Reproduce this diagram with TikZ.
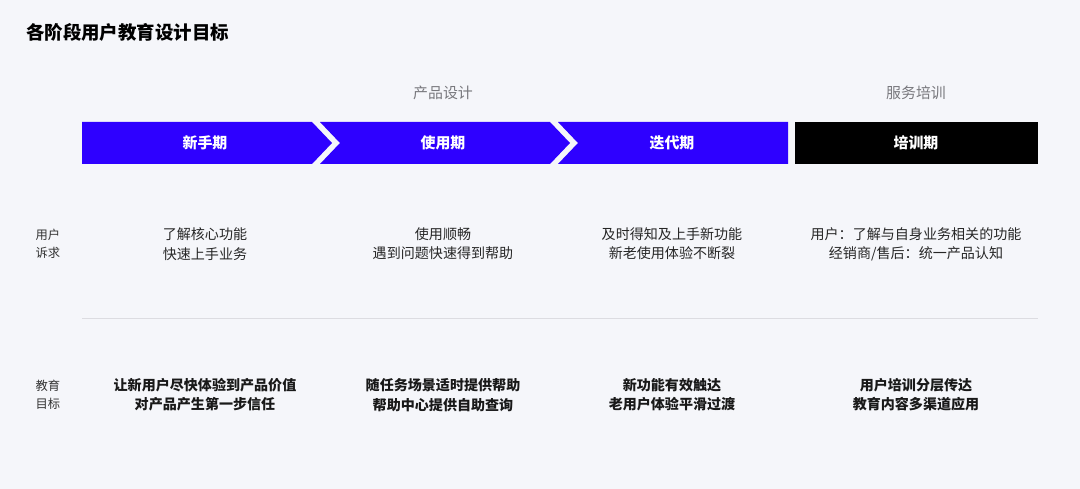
\documentclass[tikz,border=0pt]{standalone}
\usepackage{fontspec}
\setmainfont{Noto Sans CJK SC}
\usetikzlibrary{positioning}
\definecolor{bgcolor}{RGB}{245,246,250}
\definecolor{stagecolor}{RGB}{46,0,255}
\definecolor{labelcolor}{RGB}{120,120,125}
\definecolor{rulecolor}{RGB}{220,220,225}

\begin{document}
\begin{tikzpicture}[x=0.02cm, y=-0.02cm,
    stage/.style={font=\fontsize{8.5}{10}\selectfont\bfseries, text=white},
    cell/.style={font=\fontsize{8}{11}\selectfont, align=center, text=black!85},
    goal/.style={font=\fontsize{8}{11}\selectfont\bfseries, align=center, text=black!90},
    rowlabel/.style={font=\fontsize{7}{10}\selectfont, align=center, text=black!80},
    section/.style={font=\fontsize{8.5}{10}\selectfont, text=labelcolor}]
    % Fond
    \fill[bgcolor] (0,0) rectangle (1080,489);
    \useasboundingbox (0,0) rectangle (1080,489);

    % Titre
    \node[anchor=west, font=\fontsize{10.5}{12}\selectfont\bfseries] (title) at (20,32) {各阶段用户教育设计目标};

    % Sections
    \node[section] (design) at (443,93) {产品设计};
    \node[section] (service) at (916,93) {服务培训};

    % Etapes (chevrons)
    \fill[stagecolor] (82,122) -- (312,122) -- (332,143) -- (312,164) -- (82,164) -- cycle;
    \fill[stagecolor] (320,122) -- (550,122) -- (570,143) -- (550,164) -- (320,164) -- (340,143) -- cycle;
    \fill[stagecolor] (558,122) -- (788,122) -- (788,164) -- (558,164) -- (578,143) -- cycle;
    \fill[black] (795,122) rectangle (1038,164);
    \node[stage] (s1) at (205,143) {新手期};
    \node[stage] (s2) at (443,143) {使用期};
    \node[stage] (s3) at (672,143) {迭代期};
    \node[stage] (s4) at (916,143) {培训期};

    % Besoins
    \node[rowlabel] (need) at (48,244) {用户\\诉求};
    \node[cell] (n1) at (205,244) {了解核心功能\\快速上手业务};
    \node[cell] (n2) at (443,244) {使用顺畅\\遇到问题快速得到帮助};
    \node[cell] (n3) at (672,244) {及时得知及上手新功能\\新老使用体验不断裂};
    \node[cell] (n4) at (916,244) {用户：了解与自身业务相关的功能\\经销商/售后：统一产品认知};

    % Séparateur
    \draw[rulecolor, line width=0.5pt] (82,318) -- (1038,318);

    % Objectifs
    \node[rowlabel] (aim) at (48,395) {教育\\目标};
    \node[goal] (g1) at (205,395) {让新用户尽快体验到产品价值\\对产品产生第一步信任};
    \node[goal] (g2) at (443,395) {随任务场景适时提供帮助\\帮助中心提供自助查询};
    \node[goal] (g3) at (672,395) {新功能有效触达\\老用户体验平滑过渡};
    \node[goal] (g4) at (916,395) {用户培训分层传达\\教育内容多渠道应用};
\end{tikzpicture}
\end{document}
